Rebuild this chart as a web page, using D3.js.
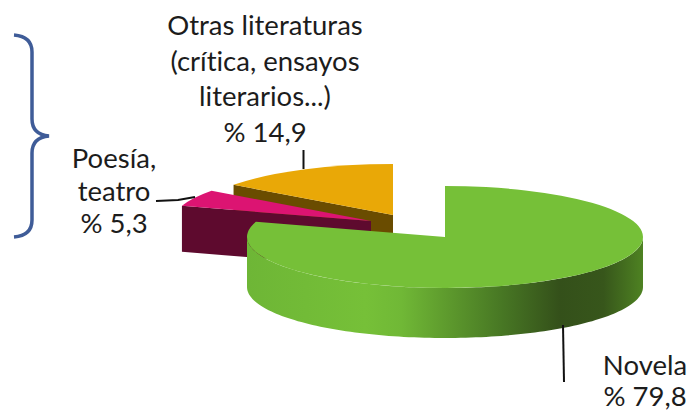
<!DOCTYPE html>
<html>
<head>
<meta charset="utf-8">
<script src="https://cdn.jsdelivr.net/npm/d3@7/dist/d3.min.js"></script>
<style>
html,body{margin:0;padding:0;background:#fff}
svg{display:block}
text{font-family:Lato,"Open Sans",sans-serif;font-size:27.5px;fill:#1c1c1c;font-variant-ligatures:none}
</style>
</head>
<body>
<div id="chart"></div>
<script>
const categories = ["Novela", "Poesía, teatro", "Otras literaturas"];
const seriesValues = [79.8, 5.3, 14.9];
const topColors = ["#76c038", "#dc1472", "#e9a807"];
const sideColors = ["#76c038", "#5e0a2e", "#6a4c00"];
const labelLines = [
  ["Novela", "% 79,8"],
  ["Poesía,", "teatro", "% 5,3"],
  ["Otras literaturas", "(crítica, ensayos", "literarios...)", "% 14,9"]
];

const W = 690, H = 412, rx = 198, ry = 51;
const svg = d3.select("#chart").append("svg").attr("width", W).attr("height", H);

// layout of the exploded slices, painted back to front
const layout = [
  {i: 2, cx: 393, cy: 215, depth: 49},
  {i: 1, cx: 371, cy: 221, depth: 46},
  {i: 0, cx: 445, cy: 237, depth: 50}
];

const arcs = d3.pie().sort(null).startAngle(0).endAngle(2 * Math.PI)(seriesValues);
const arcGen = d3.arc().innerRadius(0).outerRadius(rx);
const px = a => rx * Math.sin(a);
const py = a => -ry * Math.cos(a);

// shaded outer wall of the large slice
const grad = svg.append("defs").append("linearGradient")
  .attr("id", "wall").attr("gradientUnits", "userSpaceOnUse")
  .attr("x1", -rx).attr("x2", rx).attr("y1", 0).attr("y2", 0);
[[0, "#6eb636"], [0.3, "#76c038"], [0.39, "#70b836"], [0.49, "#609e2e"], [0.64, "#487824"], [0.79, "#34501a"], [0.9, "#37561b"], [1, "#4e8222"]]
  .forEach(s => grad.append("stop").attr("offset", s[0]).attr("stop-color", s[1]));

const line = d3.line();

layout.forEach(s => {
  const a = arcs[s.i];
  const g = svg.append("g").attr("transform", `translate(${s.cx},${s.cy})`);

  // outer wall (only the front half of the ellipse)
  const a0 = Math.max(a.startAngle, Math.PI / 2);
  const a1 = Math.min(a.endAngle, 3 * Math.PI / 2);
  if (a1 > a0) {
    const angles = d3.range(0, 121).map(k => a0 + (a1 - a0) * k / 120);
    const pts = angles.map(t => [px(t), py(t)])
      .concat(angles.slice().reverse().map(t => [px(t), py(t) + s.depth]));
    g.append("path").attr("d", line(pts) + "Z").attr("fill", "url(#wall)");
  }

  // cut face toward the viewer
  if (s.i !== 0) {
    const t = a.startAngle;
    g.append("path")
      .attr("d", line([[0, 0], [px(t), py(t)], [px(t), py(t) + s.depth], [0, s.depth]]) + "Z")
      .attr("fill", sideColors[s.i]);
  }

  // top face
  g.append("path")
    .attr("transform", `scale(1,${ry / rx})`)
    .attr("d", arcGen(a))
    .attr("fill", topColors[s.i]);
});

// leader lines
const leaders = [
  [[563, 325], [564, 382]],
  [[156, 201], [178, 200], [195, 197]],
  [[303.5, 150], [303.5, 169]]
];
leaders.forEach(l => svg.append("path").attr("d", line(l))
  .attr("fill", "none").attr("stroke", "#111").attr("stroke-width", 2));

// labels
const labelAnchors = [
  {x: 645, y: 375, dy: 31},
  {x: 114, y: 168, dy: 32.5},
  {x: 265, y: 35, dy: 35.5}
];
labelLines.forEach((lines, i) => {
  const p = labelAnchors[i];
  const t = svg.append("text").attr("text-anchor", "middle");
  lines.forEach((s, k) => t.append("tspan").attr("x", p.x).attr("y", p.y + k * p.dy).text(s));
});

// brace
svg.append("path")
  .attr("d", "M14,35 C26,36 32,42 32,52 L32,119 C32,129 38,135 49,136 C38,137 32,143 32,153 L32,220 C32,230 26,236 14,237")
  .attr("fill", "none").attr("stroke", "#3f5c98").attr("stroke-width", 3.5);
</script>
</body>
</html>
